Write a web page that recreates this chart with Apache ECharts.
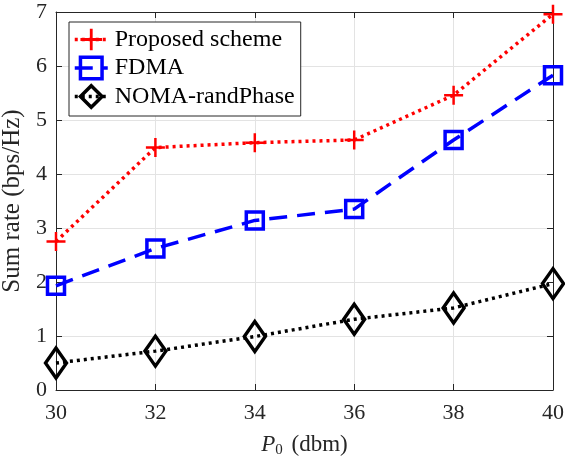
<!DOCTYPE html>
<html><head><meta charset="utf-8">
<script src="https://cdn.jsdelivr.net/npm/echarts@6/dist/echarts.min.js"></script>
<style>html,body{margin:0;padding:0;background:#fff}#c{width:565px;height:457px}</style>
</head><body><div id="c"></div>
<script>
const xValues = [30, 32, 34, 36, 38, 40];
const proposed = [2.75, 4.49, 4.58, 4.63, 5.46, 6.96];
const fdma = [1.93, 2.62, 3.14, 3.35, 4.63, 5.83];
const noma = [0.5, 0.72, 0.99, 1.31, 1.52, 1.97];
const seriesNames = ['Proposed scheme', 'FDMA', 'NOMA-randPhase'];

const font = 'Liberation Serif';
const axisColor = '#262626';
const pairs = arr => xValues.map((x, i) => [x, arr[i]]);
const plus = 'path://M-0.13,-1H0.13V-0.13H1V0.13H0.13V1H-0.13V0.13H-1V-0.13H-0.13Z';

const chart = echarts.init(document.getElementById('c'), null, {renderer: 'canvas'});
const baseAxis = {
  axisLine: {show: true, onZero: false, lineStyle: {color: axisColor, width: 1}},
  axisTick: {show: true, inside: true, length: 6, lineStyle: {color: axisColor}},
  splitLine: {show: false},
  axisLabel: {show: false}
};
chart.setOption({
  animation: false,
  backgroundColor: '#fff',
  grid: {left: 56, right: 12, top: 12, bottom: 67, containLabel: false, outerBoundsMode: 'none'},
  xAxis: [
    Object.assign({}, baseAxis, {
      type: 'value', min: 30, max: 40, interval: 2, position: 'bottom',
      axisLabel: {show: true, fontFamily: font, fontSize: 22, color: axisColor, margin: 12},
      splitLine: {show: true, lineStyle: {color: '#e3e3e3', width: 1}},
      name: '{i|P}{s|0} (dbm)', nameLocation: 'middle', nameGap: 41,
      nameTextStyle: {fontFamily: font, fontSize: 23, color: axisColor,
        rich: {i: {fontFamily: font, fontStyle: 'italic', fontSize: 23, color: axisColor},
               s: {fontFamily: font, fontSize: 15, color: axisColor, verticalAlign: 'bottom', padding: [12, 3, 0, 0]}}}
    }),
    Object.assign({}, baseAxis, {type: 'value', min: 30, max: 40, interval: 2, position: 'top'})
  ],
  yAxis: [
    Object.assign({}, baseAxis, {
      type: 'value', min: 0, max: 7, interval: 1, position: 'left',
      axisLabel: {show: true, fontFamily: font, fontSize: 22, color: axisColor, margin: 9},
      splitLine: {show: true, lineStyle: {color: '#e3e3e3', width: 1}},
      name: 'Sum rate (bps/Hz)', nameLocation: 'middle', nameGap: 27,
      nameTextStyle: {fontFamily: font, fontSize: 25, color: axisColor}
    }),
    Object.assign({}, baseAxis, {type: 'value', min: 0, max: 7, interval: 1, position: 'right'})
  ],
  legend: {
    show: true, left: 69, top: 22, orient: 'vertical',
    padding: [4, 6, 6, 4], itemGap: 1.5,
    backgroundColor: '#fff', borderColor: axisColor, borderWidth: 1,
    itemWidth: 33, itemHeight: 27,
    itemStyle: {borderWidth: 3.5},
    lineStyle: {width: 3.5},
    textStyle: {fontFamily: font, fontSize: 24, lineHeight: 27, color: '#000', padding: [0, 0, 0, 2]},
    data: seriesNames
  },
  series: [
    {name: seriesNames[0], type: 'line', data: pairs(proposed), symbol: plus, symbolSize: 19,
     lineStyle: {color: '#ff0000', width: 3.5, type: [3, 4]},
     itemStyle: {color: '#ff0000', borderWidth: 0}, z: 4},
    {name: seriesNames[1], type: 'line', data: pairs(fdma), symbol: 'rect', symbolSize: 17,
     lineStyle: {color: '#0000ff', width: 3.5, type: [18, 10]},
     itemStyle: {color: 'rgba(255,255,255,0)', borderColor: '#0000ff', borderWidth: 3.5}, z: 3},
    {name: seriesNames[2], type: 'line', data: pairs(noma), symbol: 'diamond', symbolSize: [21, 30],
     lineStyle: {color: '#000000', width: 3.5, type: [3, 4]},
     itemStyle: {color: 'rgba(255,255,255,0)', borderColor: '#000000', borderWidth: 3.5}, z: 2}
  ]
});
</script></body></html>
